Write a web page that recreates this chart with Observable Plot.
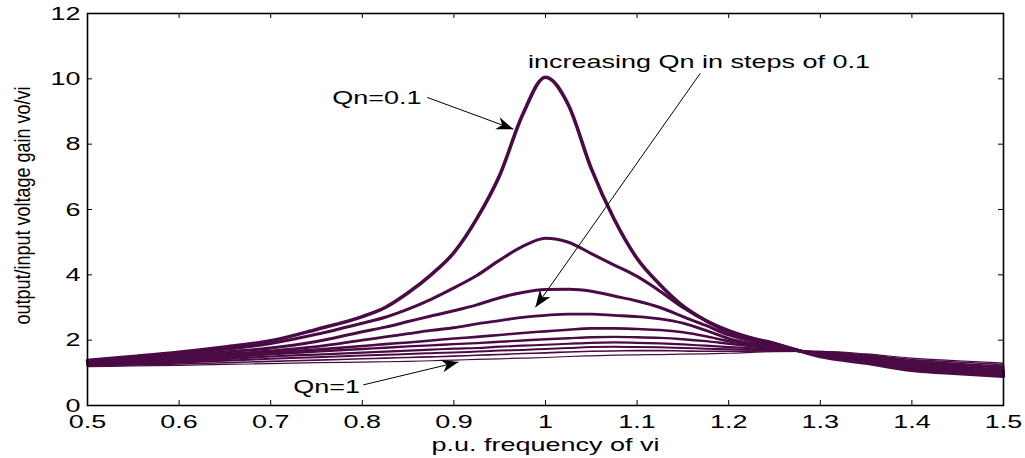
<!DOCTYPE html>
<html><head><meta charset="utf-8">
<script src="https://cdn.jsdelivr.net/npm/d3@7"></script>
<script src="https://cdn.jsdelivr.net/npm/@observablehq/plot@0.6"></script>
<style>body{margin:0;background:#fff;}</style>
</head><body><div id="chart"></div>
<script>
// p.u. frequency samples
const freq = [0.5,0.55,0.6,0.65,0.7,0.75,0.8,0.825,0.85,0.875,0.9,0.925,0.95,0.975,1.0,1.025,1.05,1.075,1.1,1.125,1.15,1.175,1.2,1.25,1.3,1.35,1.4,1.45,1.5];
const qnValues = [0.1,0.2,0.3,0.4,0.5,0.6,0.7,0.8,0.9,1.0];
// gain curves
const gainQ01 = [1.38,1.5,1.63,1.79,1.98,2.33,2.72,3.0,3.45,4.0,4.68,5.72,7.05,8.9,10.05,9.2,7.25,5.7,4.5,3.7,3.05,2.6,2.25,1.9,1.5,1.3,1.08,0.98,0.9];
const gainQ02 = [1.35,1.46,1.58,1.72,1.9,2.18,2.52,2.7,2.95,3.25,3.6,3.98,4.45,4.87,5.12,5.0,4.65,4.3,3.95,3.5,3.0,2.6,2.3,1.88,1.53,1.34,1.12,1.03,0.94];
const gainQ03 = [1.33,1.42,1.52,1.64,1.76,1.96,2.26,2.4,2.57,2.74,2.9,3.08,3.3,3.46,3.55,3.56,3.5,3.35,3.2,3.0,2.72,2.45,2.16,1.85,1.55,1.37,1.17,1.07,0.98];
const gainQ04 = [1.31,1.39,1.47,1.57,1.67,1.8,2.0,2.1,2.2,2.3,2.38,2.5,2.6,2.7,2.76,2.8,2.8,2.76,2.72,2.65,2.52,2.3,2.05,1.8,1.57,1.4,1.21,1.11,1.02];
const gainQ05 = [1.29,1.35,1.42,1.52,1.62,1.71,1.82,1.88,1.93,1.99,2.05,2.1,2.16,2.22,2.27,2.32,2.36,2.36,2.34,2.31,2.24,2.12,1.97,1.77,1.59,1.43,1.25,1.15,1.06];
const gainQ06 = [1.27,1.32,1.38,1.47,1.57,1.65,1.73,1.77,1.81,1.84,1.88,1.91,1.95,1.99,2.03,2.06,2.09,2.1,2.09,2.07,2.03,1.97,1.89,1.74,1.61,1.46,1.29,1.19,1.1];
const gainQ07 = [1.25,1.3,1.35,1.42,1.5,1.56,1.62,1.65,1.68,1.71,1.74,1.76,1.8,1.83,1.86,1.89,1.92,1.93,1.92,1.9,1.87,1.83,1.79,1.71,1.62,1.49,1.33,1.24,1.15];
const gainQ08 = [1.23,1.27,1.31,1.37,1.43,1.48,1.53,1.55,1.58,1.6,1.62,1.65,1.68,1.7,1.73,1.76,1.79,1.8,1.79,1.78,1.76,1.74,1.72,1.69,1.63,1.52,1.37,1.28,1.2];
const gainQ09 = [1.21,1.24,1.27,1.31,1.35,1.39,1.43,1.45,1.47,1.49,1.51,1.54,1.56,1.59,1.61,1.64,1.66,1.67,1.68,1.68,1.67,1.66,1.66,1.67,1.65,1.55,1.41,1.33,1.25];
const gainQ10 = [1.19,1.21,1.23,1.26,1.28,1.31,1.33,1.34,1.35,1.37,1.39,1.41,1.43,1.45,1.47,1.5,1.52,1.54,1.55,1.56,1.57,1.58,1.6,1.65,1.66,1.58,1.45,1.37,1.3];

const xTicks = [0.5,0.6,0.7,0.8,0.9,1.0,1.1,1.2,1.3,1.4,1.5];
const xTickLabels = ["0.5","0.6","0.7","0.8","0.9","1","1.1","1.2","1.3","1.4","1.5"];
const yTicks = [0,2,4,6,8,10,12];
const yTickLabels = ["0","2","4","6","8","10","12"];
const xLabel = "p.u. frequency of vi";
const yLabel = "output/input voltage gain vo/vi";

const noteTexts = ["Qn=0.1","increasing Qn in steps of 0.1","Qn=1"];
const noteX = [0.816,1.1676,0.761];
const noteY = [9.42,10.52,0.58];
const arrowX1 = [0.871,1.169,0.801];
const arrowY1 = [9.43,10.17,0.63];
const arrowX2 = [0.965,0.989,0.905];
const arrowY2 = [8.46,3.01,1.33];

const series = [gainQ01,gainQ02,gainQ03,gainQ04,gainQ05,gainQ06,gainQ07,gainQ08,gainQ09,gainQ10];
const lineWidths = [3.6,3.1,3,2.8,2.6,2.4,2.2,2,1.6,1.2];
const lineColor = "#4a0b45";

const notes = noteTexts.map((t,i)=>({t, x:noteX[i], y:noteY[i]}));
const arrows = arrowX1.map((_,i)=>({x1:arrowX1[i],y1:arrowY1[i],x2:arrowX2[i],y2:arrowY2[i]}));

const lineMarks = series.map((g,i)=>({g,i})).reverse().map(({g,i}) =>
  Plot.line(g.map((v,j)=>({f:freq[j], gain:v, qn:qnValues[i]})), {
    x:"f", y:"gain", stroke: lineColor, strokeWidth: lineWidths[i], curve:"monotone-x", strokeLinejoin:"round"
  }));

const chart = Plot.plot({
  width:1025, height:458,
  marginLeft:87, marginRight:22, marginTop:13, marginBottom:53,
  style:{fontFamily:"'Liberation Sans', Arial, sans-serif", fontSize:"19px", background:"white", color:"black"},
  x:{domain:[0.5,1.5], ticks:xTicks, tickFormat:d=>xTickLabels[xTicks.findIndex(t=>Math.abs(t-d)<1e-9)], tickSize:0, tickPadding:9, label:null},
  y:{domain:[0,12], ticks:yTicks, tickFormat:d=>yTickLabels[yTicks.indexOf(d)], tickSize:0, tickPadding:7, label:null},
  marks:[
    ...lineMarks,
    Plot.ruleX(xTicks, {x:d=>d, insetTop:387, stroke:"black", strokeWidth:1}),
    Plot.ruleX(xTicks, {x:d=>d, insetBottom:387, stroke:"black", strokeWidth:1}),
    Plot.ruleY(yTicks, {y:d=>d, insetRight:911, stroke:"black", strokeWidth:1}),
    Plot.ruleY(yTicks, {y:d=>d, insetLeft:911, stroke:"black", strokeWidth:1}),
    Plot.frame({stroke:"black", strokeWidth:1.6}),
    Plot.link(arrows, {x1:"x1", y1:"y1", x2:"x2", y2:"y2", stroke:"black", strokeWidth:1}),
    Plot.text(notes, {x:"x", y:"y", text:"t", fontSize:19, fill:"black"}),
    Plot.text([xLabel], {frameAnchor:"bottom", dy:39, textAnchor:"middle", lineAnchor:"middle", fontSize:19, fill:"black"}),
    Plot.text([yLabel], {frameAnchor:"left", dx:-65, dy:-4, rotate:-90, textAnchor:"middle", lineAnchor:"middle", fontSize:18, fill:"black"})
  ]
});
document.getElementById("chart").append(chart);
const svg = chart.tagName.toLowerCase()==="svg" ? chart : chart.querySelector("svg");
const ns = "http://www.w3.org/2000/svg";
const defs = document.createElementNS(ns,"defs");
const marker = document.createElementNS(ns,"marker");
marker.setAttribute("id","ahead");
marker.setAttribute("markerUnits","userSpaceOnUse");
marker.setAttribute("orient","auto");
marker.setAttribute("refX","0"); marker.setAttribute("refY","0");
marker.setAttribute("markerWidth","40"); marker.setAttribute("markerHeight","40");
marker.setAttribute("overflow","visible");
const mp = document.createElementNS(ns,"path");
mp.setAttribute("d","M0,0 L-17,-6.5 L-12,0 L-17,6.5 Z");
mp.setAttribute("fill","black");
marker.append(mp); defs.append(marker); svg.prepend(defs);
svg.querySelectorAll('g[aria-label="link"] path, g[aria-label="link"] line').forEach(p=>p.setAttribute("marker-end","url(#ahead)"));
svg.querySelectorAll("text").forEach(t=>{
  if (/rotate/.test(t.getAttribute("transform")||"")) {
    t.setAttribute("transform", t.getAttribute("transform")+" scale(1,1.25)");
    return;
  }
  const L = t.getComputedTextLength();
  if (L>0) { t.setAttribute("textLength", (L*1.42).toFixed(1)); t.setAttribute("lengthAdjust","spacingAndGlyphs"); }
});
</script></body></html>
